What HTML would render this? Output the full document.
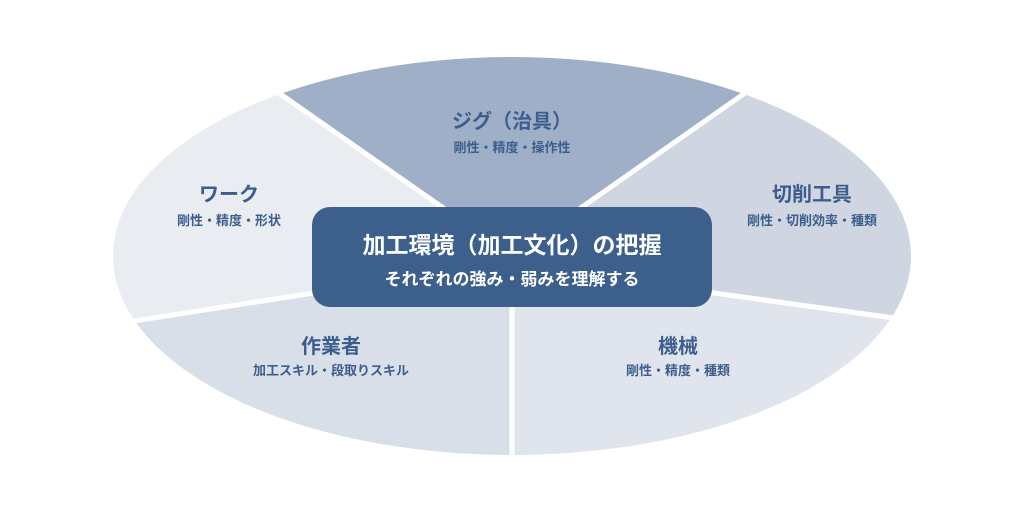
<!DOCTYPE html>
<html style="overflow:hidden"><head><meta charset="utf-8"><style>
html,body{margin:0;background:#fff;width:1024px;height:512px;overflow:hidden}
svg{display:block}
text{font-family:"Liberation Sans","Noto Sans CJK JP",sans-serif;text-anchor:middle}
.t{font-size:20px;font-weight:bold;fill:#3d5e8c}
.s{font-size:13px;font-weight:bold;fill:#3d5e8c}
</style></head><body>
<svg width="1024" height="512" viewBox="0 0 1024 512">
<defs><clipPath id="c"><ellipse cx="512" cy="256" rx="399" ry="199"/></clipPath></defs>
<g clip-path="url(#c)">
<polygon points="512,256 146,0 878,0" fill="#9eafc7"/>
<polygon points="512,256 878,0 1024,0 1024,336 512,265" fill="#cfd6e2"/>
<polygon points="512,265 1024,336 1024,512 512,512" fill="#e0e5ed"/>
<polygon points="512,262 512,512 0,512 0,342" fill="#d9dfe8"/>
<polygon points="512,262 0,342 0,0 146,0 512,256" fill="#e9ecf1"/>
<g stroke="#fff" stroke-width="5">
<line x1="512" y1="256" x2="146" y2="0"/>
<line x1="512" y1="256" x2="878" y2="0"/>
<line x1="512" y1="265" x2="1024" y2="336"/>
<line x1="512" y1="262" x2="0" y2="342"/>
<line x1="512" y1="258" x2="512" y2="512"/>
</g>
</g>
<rect x="312" y="207" width="400" height="100" rx="18" fill="#3c5f8c"/>
<text x="512" y="253" style="font-size:23px;font-weight:bold;fill:#fff">加工環境（加工文化）の把握</text>
<text x="512" y="285" style="font-size:17px;font-weight:bold;fill:#fff">それぞれの強み・弱みを理解する</text>
<text class="t" x="512" y="128">ジグ（治具）</text>
<text class="s" x="512" y="152">剛性・精度・操作性</text>
<text class="t" x="229" y="201">ワーク</text>
<text class="s" x="229" y="225">剛性・精度・形状</text>
<text class="t" x="812" y="201">切削工具</text>
<text class="s" x="812" y="225">剛性・切削効率・種類</text>
<text class="t" x="331" y="353">作業者</text>
<text class="s" x="331" y="375">加工スキル・段取りスキル</text>
<text class="t" x="678" y="353">機械</text>
<text class="s" x="678" y="375">剛性・精度・種類</text>
</svg>
</body></html>
